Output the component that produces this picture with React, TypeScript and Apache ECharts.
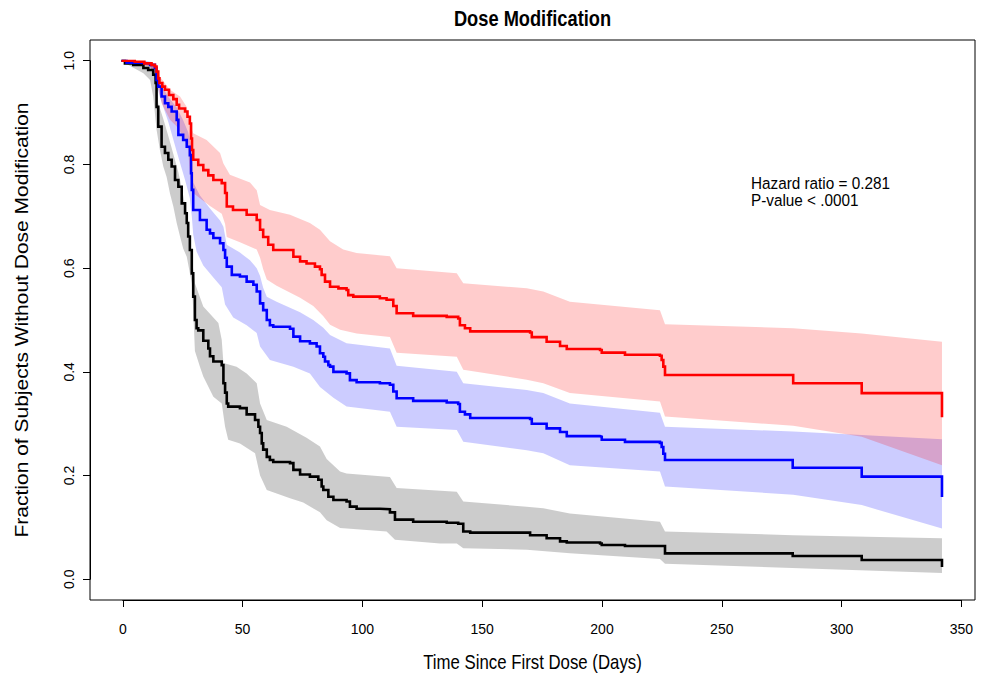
import React, { useEffect, useRef } from "react";
import * as echarts from "echarts";

// ---- data (days, fraction) ----
const xTickStep = 50;
const xTickMax = 350;
const yTickStep = 0.2;

const redCurve: number[][] = [
  [0, 1], [5, 0.998], [9, 0.995], [12, 0.992], [13.4, 0.989], [14.1, 0.979], [14.8, 0.966], [15.3, 0.957],
  [16.5, 0.95], [17.6, 0.944], [19.3, 0.934], [21.1, 0.926], [22.5, 0.915], [23.5, 0.908], [26, 0.902],
  [27, 0.892], [28, 0.879], [28.5, 0.85], [28.9, 0.828], [29.4, 0.809], [31.5, 0.799], [33.6, 0.789],
  [35.7, 0.779], [37.8, 0.77], [41.3, 0.764], [42.7, 0.745], [43.4, 0.719], [46, 0.712], [51.7, 0.703],
  [55.9, 0.693], [57.3, 0.674], [58.6, 0.66], [60.7, 0.645], [62.8, 0.635], [71.2, 0.622], [74, 0.613],
  [76.7, 0.609], [80.2, 0.603], [82.3, 0.598], [83, 0.587], [84.4, 0.574], [86.5, 0.564], [90, 0.561],
  [93.4, 0.558], [94.1, 0.548], [96.2, 0.545], [107.3, 0.542], [110.1, 0.539], [112.9, 0.527], [114.3, 0.513],
  [121.2, 0.508], [135.2, 0.506], [140, 0.503], [140.7, 0.49], [142.8, 0.484], [145, 0.478], [170, 0.476],
  [170.7, 0.467], [176.9, 0.458], [182.5, 0.45], [185.3, 0.444], [199.2, 0.442], [199.9, 0.437], [209.6, 0.433],
  [224.2, 0.431], [224.9, 0.423], [225.6, 0.41], [226.3, 0.394], [279.8, 0.378], [308.4, 0.359], [341.9, 0.315],
];

const blueCurve: number[][] = [
  [0, 1], [1.6, 0.996], [7.2, 0.995], [11.4, 0.992], [13.4, 0.986], [14.1, 0.963], [14.8, 0.95], [16.2, 0.931],
  [17.6, 0.918], [19, 0.911], [20.4, 0.902], [22.5, 0.886], [23.2, 0.857], [25.2, 0.847], [26.7, 0.834],
  [28, 0.818], [28.5, 0.783], [28.8, 0.751], [29.4, 0.712], [32.2, 0.693], [35, 0.674], [36.4, 0.667],
  [37.8, 0.658], [40.6, 0.648], [42, 0.635], [42.7, 0.62], [43.4, 0.603], [45.5, 0.587], [48.9, 0.584],
  [51.7, 0.574], [54.5, 0.568], [55.9, 0.555], [57.3, 0.532], [58.6, 0.519], [60.1, 0.5], [61.4, 0.49],
  [62.8, 0.487], [69.8, 0.483], [71.2, 0.468], [74, 0.459], [78.1, 0.455], [80.9, 0.449], [82.3, 0.436],
  [83.7, 0.429], [84.4, 0.42], [85.8, 0.413], [86.5, 0.41], [87.9, 0.4], [93.4, 0.397], [94.8, 0.384],
  [97.6, 0.38], [107.3, 0.378], [111.5, 0.375], [112.9, 0.362], [114.3, 0.349], [121.2, 0.344], [135.2, 0.341],
  [140, 0.338], [140.7, 0.323], [142.8, 0.318], [145, 0.311], [170, 0.309], [170.7, 0.3], [176.9, 0.291],
  [182.5, 0.284], [185.3, 0.276], [199.2, 0.275], [199.9, 0.269], [209.6, 0.265], [224.2, 0.263], [224.9, 0.255],
  [225.6, 0.242], [226.3, 0.23], [279.6, 0.215], [308.4, 0.198], [341.9, 0.161],
];

const blackCurve: number[][] = [
  [0, 1], [0.9, 0.995], [4.4, 0.992], [8.6, 0.986], [10.6, 0.982], [12.7, 0.973], [13.7, 0.957], [14.1, 0.911],
  [14.8, 0.873], [16.2, 0.834], [17.6, 0.822], [19, 0.809], [20.4, 0.796], [21.8, 0.77], [23.2, 0.757],
  [24.6, 0.725], [26, 0.706], [26.7, 0.687], [27.3, 0.661], [28, 0.635], [28.8, 0.59], [29.4, 0.545],
  [30.1, 0.5], [30.8, 0.484], [31.5, 0.48], [33.6, 0.46], [35.7, 0.445], [36.4, 0.43], [37.8, 0.42],
  [41.3, 0.413], [42, 0.378], [42.7, 0.36], [43.4, 0.339], [44, 0.333], [48.9, 0.33], [51.7, 0.318],
  [55.2, 0.307], [56.6, 0.294], [57.3, 0.282], [58, 0.262], [58.6, 0.25], [60.1, 0.236], [61.4, 0.23],
  [62.8, 0.226], [69.8, 0.224], [71.2, 0.211], [74, 0.202], [78.1, 0.198], [81.6, 0.192], [83, 0.179],
  [83.7, 0.172], [85.8, 0.159], [87.9, 0.153], [93.4, 0.15], [94.8, 0.14], [97.6, 0.136], [107.3, 0.135],
  [111.5, 0.129], [113.6, 0.115], [121.2, 0.111], [135.2, 0.109], [140, 0.107], [142.1, 0.092], [145, 0.09],
  [170, 0.085], [176.9, 0.079], [182.5, 0.073], [185.3, 0.071], [199.2, 0.069], [199.9, 0.066], [209.6, 0.064],
  [226.3, 0.05], [279.6, 0.045], [308.4, 0.037], [341.9, 0.026],
];

const redUpper: number[][] = [
  [0, 1], [12.7, 0.995], [14.1, 0.985], [15.5, 0.969], [19.7, 0.944], [23.9, 0.931], [26.7, 0.911], [28, 0.879],
  [29.4, 0.86], [35, 0.847], [40.6, 0.822], [42, 0.802], [44.7, 0.78], [53.1, 0.765], [55.9, 0.75], [57.3, 0.722],
  [61.4, 0.712], [69.8, 0.703], [78.1, 0.687], [82.3, 0.674], [86.5, 0.652], [92, 0.636], [97.6, 0.629],
  [111.5, 0.623], [114.3, 0.6], [139.4, 0.59], [142.1, 0.571], [168.6, 0.561], [175.5, 0.555], [186.6, 0.535],
  [224.2, 0.519], [226.3, 0.492], [279.8, 0.484], [308.4, 0.474], [341.9, 0.458],
];
const redLower: number[][] = [
  [0, 1], [11.4, 0.989], [14.1, 0.963], [16.2, 0.918], [19.7, 0.886], [22.5, 0.873], [25.2, 0.854], [27.3, 0.828],
  [28, 0.78], [29.4, 0.745], [32.2, 0.735], [36.4, 0.72], [41.3, 0.705], [42.7, 0.685], [43.4, 0.66],
  [48.9, 0.65], [55.9, 0.636], [57.3, 0.62], [58.6, 0.598], [60.1, 0.578], [64.2, 0.566], [74, 0.543],
  [79.5, 0.527], [83.7, 0.507], [86.5, 0.491], [90.7, 0.481], [97.6, 0.474], [111.5, 0.467], [114.3, 0.437],
  [139.4, 0.429], [142.1, 0.404], [168.6, 0.385], [175.5, 0.378], [186.6, 0.359], [224.2, 0.343], [226.3, 0.314],
  [279.8, 0.296], [308.4, 0.275], [341.9, 0.22],
];
const blueUpper: number[][] = [
  [0, 1], [11.4, 0.993], [13.4, 0.99], [14.1, 0.975], [16.2, 0.952], [19, 0.93], [22.5, 0.91], [25.2, 0.885],
  [27.3, 0.862], [28.5, 0.835], [29.4, 0.765], [32.2, 0.74], [36.4, 0.715], [40.6, 0.692], [42, 0.68],
  [43.4, 0.645], [48.9, 0.63], [53.1, 0.615], [55.9, 0.6], [57.3, 0.585], [58.6, 0.562], [60.1, 0.545],
  [64.2, 0.535], [74, 0.515], [79.5, 0.5], [83.7, 0.485], [86.5, 0.471], [93.4, 0.455], [111.5, 0.445],
  [114.3, 0.412], [139.4, 0.4], [142.1, 0.378], [168.6, 0.365], [175.5, 0.359], [186.6, 0.339], [224.2, 0.321],
  [226.3, 0.294], [279.8, 0.285], [308.4, 0.278], [341.9, 0.27],
];
const blueLower: number[][] = [
  [0, 1], [11.4, 0.99], [14.1, 0.955], [15.5, 0.93], [19, 0.882], [22.5, 0.825], [26, 0.77], [28, 0.735],
  [28.8, 0.7], [29.4, 0.665], [30.8, 0.632], [33.6, 0.605], [37.8, 0.582], [41.3, 0.563], [42.7, 0.53],
  [46.1, 0.505], [51.7, 0.49], [55.9, 0.475], [57.3, 0.449], [61.4, 0.423], [71.2, 0.41], [78.1, 0.397],
  [82.3, 0.371], [87.9, 0.35], [93.4, 0.333], [111.5, 0.323], [114.3, 0.294], [139.4, 0.288], [142.1, 0.265],
  [168.6, 0.249], [175.5, 0.243], [186.6, 0.22], [224.2, 0.208], [226.3, 0.179], [279.8, 0.163],
  [308.4, 0.143], [341.9, 0.098],
];
const grayUpper: number[][] = [
  [0, 1], [12.7, 0.99], [14.1, 0.955], [14.8, 0.918], [16.9, 0.888], [19, 0.855], [21.1, 0.82], [23.2, 0.785],
  [24.6, 0.755], [26, 0.722], [27.3, 0.69], [28.8, 0.62], [30.1, 0.571], [33.6, 0.526], [39.9, 0.494],
  [41.3, 0.462], [42, 0.417], [47.5, 0.41], [51.7, 0.397], [55.9, 0.378], [57.3, 0.339], [60.1, 0.307],
  [68.4, 0.294], [76.7, 0.273], [82.3, 0.256], [85.1, 0.232], [90.7, 0.208], [93.4, 0.204], [111.5, 0.197],
  [114.3, 0.176], [139.4, 0.169], [142.1, 0.15], [168.6, 0.14], [175.5, 0.137], [186.6, 0.127], [224.2, 0.111],
  [226.3, 0.092], [279.8, 0.085], [341.9, 0.079],
];
const grayLower: number[][] = [
  [0, 1], [1, 0.995], [8.6, 0.976], [11.4, 0.963], [12.7, 0.931], [14.1, 0.867], [15.5, 0.828], [16.9, 0.796],
  [18.3, 0.776], [19.7, 0.744], [21.1, 0.719], [22.5, 0.687], [23.9, 0.661], [25.2, 0.638], [26.7, 0.622],
  [28.8, 0.571], [29.4, 0.52], [30.1, 0.44], [32.2, 0.41], [33.6, 0.391], [37.8, 0.352], [41.3, 0.339],
  [42.7, 0.294], [44, 0.269], [48.9, 0.262], [55.2, 0.243], [57.3, 0.2], [60.1, 0.172], [69.8, 0.156],
  [75.3, 0.148], [82.3, 0.129], [85.1, 0.114], [90.7, 0.099], [110.1, 0.092], [113.6, 0.076], [132.4, 0.069],
  [139.4, 0.069], [142.1, 0.06], [168.6, 0.057], [186.6, 0.05], [224.2, 0.039], [226.3, 0.03], [341.9, 0.012],
];

const titleText = "Dose Modification";
const xTitle = "Time Since First Dose (Days)";
const yTitle = "Fraction of Subjects Without Dose Modification";
const noteLines = ["Hazard ratio = 0.281", "P-value < .0001"];

// ---- layout (R-style box with 4% extended ranges) ----
const W = 989;
const H = 674;
const BOX = { l: 90, t: 40, r: 975, b: 600 };
const X_RANGE = [-13.68, 355.68];
const Y_RANGE = [-0.04, 1.04];
const FONT = '"Liberation Sans", Arial, Helvetica, sans-serif';
const SQUASH = 0.84;

function bandSeries(upper: number[][], lower: number[][], fill: string) {
  return {
    type: "custom",
    xAxisIndex: 1,
    yAxisIndex: 1,
    silent: true,
    z: 1,
    data: [upper[0]],
    encode: { x: 0, y: 1 },
    renderItem: (params: any, api: any) => {
      const pts = upper
        .map((p) => api.coord(p))
        .concat(lower.slice().reverse().map((p) => api.coord(p)));
      return { type: "polygon", shape: { points: pts }, style: { fill } };
    },
  };
}

function stepSeries(data: number[][], color: string) {
  return {
    type: "line",
    xAxisIndex: 1,
    yAxisIndex: 1,
    step: "end",
    symbol: "none",
    silent: true,
    z: 2,
    data,
    lineStyle: { color, width: 2.6, cap: "square", join: "miter" },
  };
}

export default function App() {
  const ref = useRef<HTMLDivElement>(null);
  useEffect(() => {
    document.body.style.margin = "0";
    const chart = echarts.init(ref.current as HTMLDivElement, null, { renderer: "svg" });
    const bw = BOX.r - BOX.l;
    const bh = BOX.b - BOX.t;
    const x0 = BOX.l + (bw * (0 - X_RANGE[0])) / (X_RANGE[1] - X_RANGE[0]);
    const x1 = BOX.l + (bw * (xTickMax - X_RANGE[0])) / (X_RANGE[1] - X_RANGE[0]);
    const y1 = BOX.t + (bh * (Y_RANGE[1] - 1)) / (Y_RANGE[1] - Y_RANGE[0]);
    const y0 = BOX.t + (bh * (Y_RANGE[1] - 0)) / (Y_RANGE[1] - Y_RANGE[0]);
    const cx = (BOX.l + BOX.r) / 2;
    const cy = (BOX.t + BOX.b) / 2;

    const option: any = {
      animation: false,
      backgroundColor: "#fff",
      grid: [
        { left: BOX.l, top: BOX.t, right: W - BOX.r, bottom: H - BOX.b, show: true, borderColor: "#000", borderWidth: 1, backgroundColor: "transparent" },
        { left: x0, top: y1, right: W - x1, bottom: H - y0 },
      ],
      xAxis: [
        { gridIndex: 0, type: "value", show: false, min: 0, max: 1 },
        {
          gridIndex: 1,
          type: "value",
          min: 0,
          max: xTickMax,
          interval: xTickStep,
          offset: BOX.b - y0,
          axisLine: { show: true, onZero: false, lineStyle: { color: "#000", width: 1 } },
          axisTick: { show: true, length: 7, lineStyle: { color: "#000", width: 1 } },
          axisLabel: { color: "#000", fontSize: 14, fontFamily: FONT, margin: 22 },
          splitLine: { show: false },
        },
      ],
      yAxis: [
        { gridIndex: 0, type: "value", show: false, min: 0, max: 1 },
        {
          gridIndex: 1,
          type: "value",
          min: 0,
          max: 1,
          interval: yTickStep,
          offset: x0 - BOX.l,
          axisLine: { show: true, onZero: false, lineStyle: { color: "#000", width: 1 } },
          axisTick: { show: true, length: 7, lineStyle: { color: "#000", width: 1 } },
          axisLabel: {
            color: "#000",
            fontSize: 14,
            fontFamily: FONT,
            rotate: 90,
            margin: 14,
            formatter: (v: number) => v.toFixed(1),
          },
          splitLine: { show: false },
        },
      ],
      series: [
        bandSeries(grayUpper, grayLower, "rgba(0,0,0,0.2)"),
        bandSeries(blueUpper, blueLower, "rgba(0,0,255,0.2)"),
        bandSeries(redUpper, redLower, "rgba(255,0,0,0.2)"),
        stepSeries(blackCurve, "#000000"),
        stepSeries(blueCurve, "#0000ff"),
        stepSeries(redCurve, "#ff0000"),
      ],
      graphic: [
        {
          type: "text",
          x: cx,
          y: 18,
          scaleX: 0.83,
          style: { text: titleText, fill: "#000", font: `bold 22px ${FONT}`, align: "center", verticalAlign: "middle" },
        },
        {
          type: "text",
          x: cx,
          y: 662,
          scaleX: SQUASH,
          style: { text: xTitle, fill: "#000", font: `20px ${FONT}`, align: "center", verticalAlign: "middle" },
        },
        {
          type: "text",
          x: 22,
          y: cy,
          rotation: Math.PI / 2,
          scaleY: SQUASH,
          style: { text: yTitle, fill: "#000", font: `21px ${FONT}`, align: "center", verticalAlign: "middle" },
        },
        {
          type: "text",
          x: 751,
          y: 191.5,
          scaleX: 0.9,
          style: {
            text: noteLines.join("\n"),
            fill: "#000",
            font: `17px ${FONT}`,
            lineHeight: 17,
            align: "left",
            verticalAlign: "middle",
          },
        },
      ],
    };
    chart.setOption(option);
    return () => chart.dispose();
  }, []);
  return <div ref={ref} style={{ position: "absolute", left: 0, top: 0, width: W, height: H }} />;
}
